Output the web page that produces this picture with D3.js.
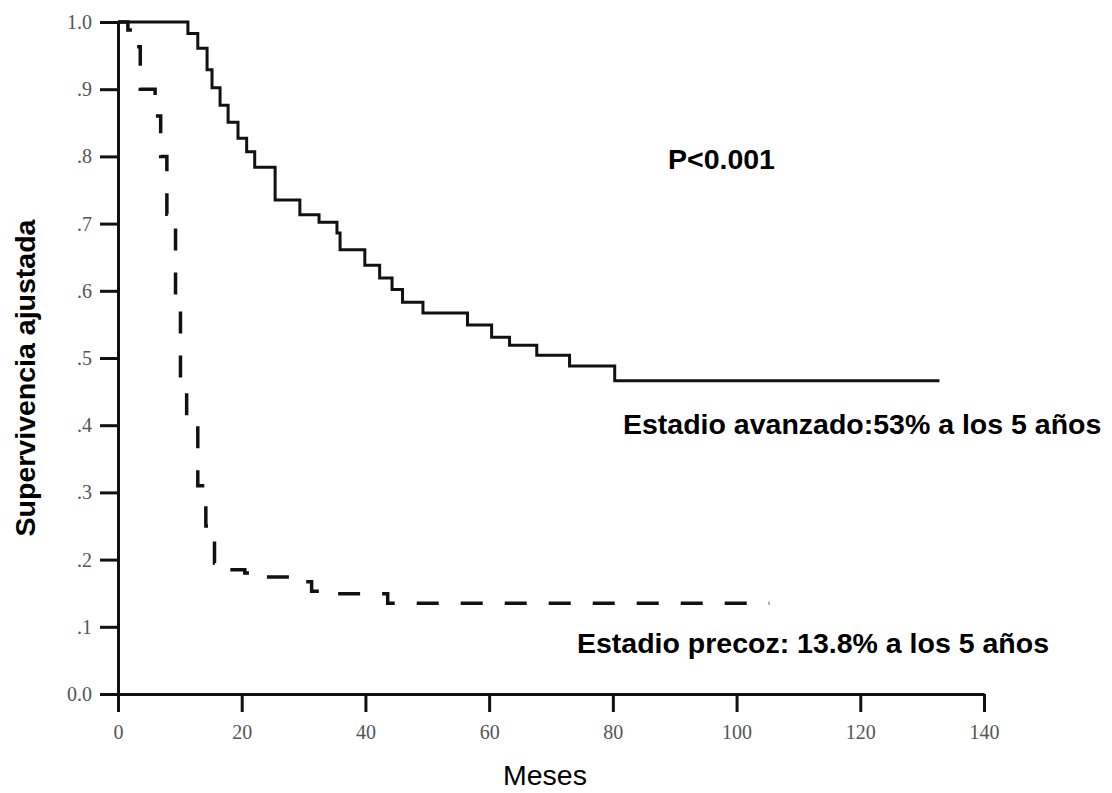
<!DOCTYPE html>
<html>
<head>
    <meta charset="UTF-8">
    <title>Supervivencia ajustada</title>
    <script src="https://d3js.org/d3.v7.min.js"></script>
    <style>
        body {
            margin: 0;
            background: white;
        }

        .axis path,
        .axis line {
            stroke: #111;
            stroke-width: 3px;
        }

        .axis text {
            font-family: "Liberation Serif", "Times New Roman", serif;
            font-size: 20px;
            fill: #555;
        }

        .curve {
            fill: none;
            stroke: #111;
        }

        .note {
            font-family: "Liberation Sans", Arial, sans-serif;
            font-size: 28.5px;
            font-weight: bold;
            fill: #000;
        }
    </style>
</head>
<body>
<script>
    // advanced stage (solid line)
    const advMonths = [0, 11.3, 12.9, 14.4, 15.2, 16.5, 17.8, 19.4, 20.8, 22.1, 25.4, 29.4, 32.5, 35.4, 35.9,
        39.9, 42.3, 44.3, 46.0, 49.3, 56.5, 60.4, 63.3, 67.7, 73.0, 80.3, 132.8];
    const advSurv = [1.0, 0.983, 0.961, 0.929, 0.902, 0.876, 0.851, 0.827, 0.807, 0.784, 0.735, 0.713, 0.702, 0.686, 0.661,
        0.638, 0.619, 0.602, 0.583, 0.567, 0.549, 0.531, 0.519, 0.504, 0.488, 0.466, 0.466];

    // early stage (dashed line)
    const earlyMonths = [0, 1.6, 2.9, 3.6, 6.0, 6.9, 7.9, 9.3, 10.1, 11.1, 12.9, 14.2, 15.6, 17.0, 20.5, 22.5,
        24.0, 27.8, 31.3, 34.5, 43.6, 105.3];
    const earlySurv = [1.0, 0.988, 0.963, 0.90, 0.86, 0.80, 0.714, 0.58, 0.47, 0.40, 0.31, 0.25, 0.195, 0.185, 0.18, 0.176,
        0.174, 0.167, 0.153, 0.149, 0.135, 0.135];

    const xTicks = [0, 20, 40, 60, 80, 100, 120, 140];
    const yTicks = [0, 0.1, 0.2, 0.3, 0.4, 0.5, 0.6, 0.7, 0.8, 0.9, 1.0];
    const yTickLabels = ['0.0', '.1', '.2', '.3', '.4', '.5', '.6', '.7', '.8', '.9', '1.0'];

    const width = 1112;
    const height = 793;

    const svg = d3.select('body')
        .append('svg')
        .attr('width', width)
        .attr('height', height);

    const x = d3.scaleLinear()
        .domain([0, 140])
        .range([118, 984]);

    const y = d3.scaleLinear()
        .domain([0, 1])
        .range([694, 22]);

    svg.append('g')
        .attr('class', 'axis axis-x')
        .attr('transform', `translate(0, ${y(0)})`)
        .call(d3.axisBottom(x)
            .tickValues(xTicks)
            .tickSize(18)
            .tickSizeOuter(0)
            .tickPadding(13)
            .tickFormat(d3.format('d')));

    svg.append('g')
        .attr('class', 'axis axis-y')
        .attr('transform', `translate(${x(0)}, 0)`)
        .call(d3.axisLeft(y)
            .tickValues(yTicks)
            .tickSize(18)
            .tickSizeOuter(0)
            .tickPadding(8)
            .tickFormat((d, i) => yTickLabels[i]));

    const line = d3.line()
        .x(d => x(d[0]))
        .y(d => y(d[1]))
        .curve(d3.curveStepAfter);

    svg.append('path')
        .datum(advMonths.map((m, i) => [m, advSurv[i]]))
        .attr('class', 'curve')
        .attr('stroke-width', 3)
        .attr('d', line);

    svg.append('path')
        .datum(earlyMonths.map((m, i) => [m, earlySurv[i]]))
        .attr('class', 'curve')
        .attr('stroke-width', 3.5)
        .attr('stroke-dasharray', '22,22')
        .attr('d', line);

    // annotations
    svg.append('text')
        .attr('class', 'note')
        .attr('x', 668)
        .attr('y', 169)
        .text('P<0.001');

    svg.append('text')
        .attr('class', 'note')
        .attr('x', 623)
        .attr('y', 434)
        .text('Estadio avanzado:53% a los 5 años');

    svg.append('text')
        .attr('class', 'note')
        .attr('x', 577)
        .attr('y', 653)
        .text('Estadio precoz: 13.8% a los 5 años');

    svg.append('text')
        .attr('class', 'note')
        .attr('x', 545)
        .attr('y', 785)
        .style('font-weight', 'normal')
        .style('text-anchor', 'middle')
        .text('Meses');

    svg.append('text')
        .attr('class', 'note')
        .attr('transform', 'translate(35, 378) rotate(-90)')
        .style('text-anchor', 'middle')
        .text('Supervivencia ajustada');
</script>
</body>
</html>
